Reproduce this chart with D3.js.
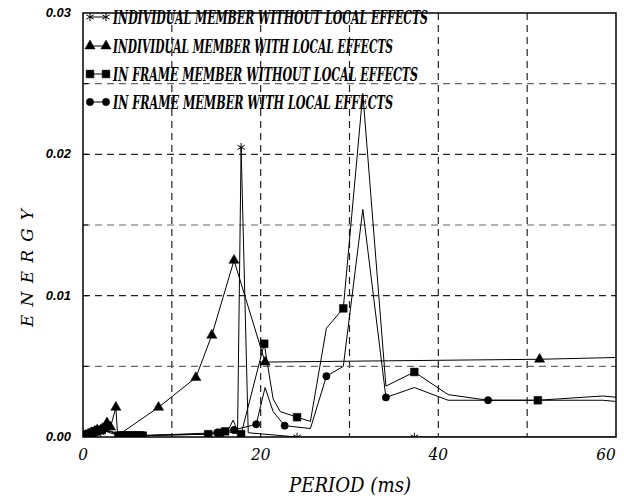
<!DOCTYPE html>
<html lang="en">
<head>
<meta charset="UTF-8">
<title>Energy vs Period</title>
<script src="https://cdnjs.cloudflare.com/ajax/libs/d3/7.8.5/d3.min.js"></script>
<style>
    body { margin: 0; background: #fff; }
    svg { display: block; }
</style>
</head>
<body>
<div id="wrapper"></div>
<script>
// --- data ---
const seriesNames = [
    "INDIVIDUAL MEMBER WITHOUT LOCAL EFFECTS",
    "INDIVIDUAL MEMBER WITH LOCAL EFFECTS",
    "IN FRAME MEMBER WITHOUT LOCAL EFFECTS",
    "IN FRAME MEMBER WITH LOCAL EFFECTS"
];

// individual member without local effects (asterisk)
const indivNoLocalT = [0.2, 0.6, 1.0, 1.5, 2.0, 2.6, 3.2, 4.5, 6.0, 14.0, 16.2, 16.9, 17.4, 17.8, 18.6, 24.1, 37.3, 65];
const indivNoLocalE = [0.0001, 0.0002, 0.0002, 0.0003, 0.0003, 0.0004, 0.0004, 0.0001, 0.0001, 0.0002, 0.0003, 0.0012, 0.0004, 0.0205, 0.0003, 0.0000, 0.0000, 0.0000];
const indivNoLocalMark = [1, 1, 1, 1, 1, 0, 0, 0, 0, 0, 0, 0, 0, 1, 0, 1, 1, 0];

// individual member with local effects (triangle)
const indivLocalT = [0.3, 0.7, 1.0, 1.3, 1.6, 2.0, 2.2, 2.5, 2.7, 3.1, 3.7, 3.9, 8.5, 12.7, 14.5, 17.0, 20.5, 51.4, 65];
const indivLocalE = [0.0001, 0.0002, 0.0003, 0.0004, 0.0005, 0.0005, 0.0006, 0.0007, 0.0010, 0.0007, 0.0021, 0.0001, 0.0021, 0.0042, 0.0072, 0.0125, 0.0053, 0.0055, 0.0057];
const indivLocalMark = [1, 1, 1, 1, 1, 1, 1, 1, 1, 1, 1, 0, 1, 1, 1, 1, 1, 1, 0];

// in frame member without local effects (square)
const frameNoLocalT = [0.1, 0.3, 0.5, 0.7, 0.9, 1.1, 1.3, 1.5, 1.8, 2.1, 4.0, 4.3, 4.6, 4.9, 5.2, 5.5, 5.8, 6.1, 6.4, 6.7, 14.1, 15.4, 16.0, 17.8, 20.4, 21.4, 22.2, 24.1, 25.6, 27.4, 29.3, 31.5, 34.1, 37.3, 41.1, 45.6, 51.2, 58.5, 62];
const frameNoLocalE = [0.0001, 0.0001, 0.0002, 0.0002, 0.0003, 0.0003, 0.0004, 0.0004, 0.0005, 0.0005, 0.0001, 0.0001, 0.0001, 0.0001, 0.0001, 0.0001, 0.0001, 0.0001, 0.0001, 0.0001, 0.0002, 0.0003, 0.0004, 0.0002, 0.0066, 0.0027, 0.0018, 0.0014, 0.0011, 0.0077, 0.0091, 0.0243, 0.0036, 0.0046, 0.0030, 0.0026, 0.0026, 0.0029, 0.0027];
const frameNoLocalMark = [1, 1, 1, 1, 1, 1, 1, 1, 1, 1, 1, 1, 1, 1, 1, 1, 1, 1, 1, 1, 1, 1, 1, 1, 1, 0, 0, 1, 0, 0, 1, 0, 0, 1, 0, 0, 1, 0, 0];

// in frame member with local effects (circle)
const frameLocalT = [0.2, 0.4, 0.6, 0.8, 1.0, 1.2, 1.4, 1.7, 2.0, 2.3, 4.1, 4.4, 4.7, 5.0, 5.3, 5.6, 5.9, 6.2, 6.5, 6.8, 15.1, 17.0, 19.5, 20.5, 21.4, 22.7, 25.6, 27.4, 29.3, 31.5, 34.1, 37.3, 41.1, 45.6, 51.2, 58.5, 62];
const frameLocalE = [0.0001, 0.0001, 0.0002, 0.0002, 0.0003, 0.0003, 0.0004, 0.0004, 0.0005, 0.0006, 0.0001, 0.0001, 0.0001, 0.0001, 0.0001, 0.0001, 0.0001, 0.0001, 0.0001, 0.0001, 0.0003, 0.0005, 0.0009, 0.0035, 0.0018, 0.0008, 0.0006, 0.0043, 0.0050, 0.0161, 0.0028, 0.0035, 0.0026, 0.0026, 0.0026, 0.0026, 0.0024];
const frameLocalMark = [1, 1, 1, 1, 1, 1, 1, 1, 1, 1, 1, 1, 1, 1, 1, 1, 1, 1, 1, 1, 1, 1, 1, 0, 0, 1, 0, 1, 0, 0, 1, 0, 0, 1, 0, 0, 0];

const xTicks = [0, 20, 40, 60];
const yTicks = [0.00, 0.01, 0.02, 0.03];
const xGrid = [10, 20, 30, 40, 50];
const yGrid = [0.005, 0.01, 0.015, 0.02, 0.025];

// --- layout ---
const width = 624, height = 499;
const plot = { left: 83, right: 616, top: 13, bottom: 437 };

const svg = d3.select("#wrapper").append("svg")
    .attr("width", width)
    .attr("height", height);

const x = d3.scaleLinear().domain([0, 60]).range([plot.left, plot.right]);
const y = d3.scaleLinear().domain([0, 0.03]).range([plot.bottom, plot.top]);

svg.append("clipPath").attr("id", "clip")
    .append("rect")
    .attr("x", plot.left).attr("y", plot.top)
    .attr("width", plot.right - plot.left)
    .attr("height", plot.bottom - plot.top);

// grid
svg.append("g").selectAll("line")
    .data(xGrid).join("line")
    .attr("x1", d => x(d)).attr("x2", d => x(d))
    .attr("y1", plot.top).attr("y2", plot.bottom)
    .attr("stroke", "#222").attr("stroke-width", 1.2)
    .attr("stroke-dasharray", "7,5");

svg.append("g").selectAll("line")
    .data(yGrid).join("line")
    .attr("x1", plot.left).attr("x2", plot.right)
    .attr("y1", d => y(d)).attr("y2", d => y(d))
    .attr("stroke", d => (Math.round(d * 1000) % 10 === 0) ? "#222" : "#666")
    .attr("stroke-width", 1.2)
    .attr("stroke-dasharray", "7,5");

// small inward ticks on the left axis
svg.append("g").selectAll("line")
    .data(yGrid).join("line")
    .attr("x1", plot.left).attr("x2", plot.left + 5)
    .attr("y1", d => y(d)).attr("y2", d => y(d))
    .attr("stroke", "#000");

// series
const series = [
    { t: indivNoLocalT, e: indivNoLocalE, m: indivNoLocalMark, sym: d3.symbolAsterisk, size: 50, fill: "none" },
    { t: indivLocalT, e: indivLocalE, m: indivLocalMark, sym: d3.symbolTriangle, size: 45, fill: "#000" },
    { t: frameNoLocalT, e: frameNoLocalE, m: frameNoLocalMark, sym: d3.symbolSquare, size: 60, fill: "#000" },
    { t: frameLocalT, e: frameLocalE, m: frameLocalMark, sym: d3.symbolCircle, size: 42, fill: "#000" }
];

const line = d3.line().x(d => x(d[0])).y(d => y(d[1]));
const lines = svg.append("g").attr("clip-path", "url(#clip)");

series.forEach(s => {
    const pts = s.t.map((t, i) => [t, s.e[i], s.m[i]]);
    lines.append("path")
        .attr("d", line(pts))
        .attr("fill", "none")
        .attr("stroke", "#000")
        .attr("stroke-width", 1);
    lines.selectAll(null)
        .data(pts.filter(d => d[2])).join("path")
        .attr("transform", d => `translate(${x(d[0])},${y(d[1])})`)
        .attr("d", d3.symbol().type(s.sym).size(s.size))
        .attr("fill", s.fill)
        .attr("stroke", "#000")
        .attr("stroke-width", s.fill === "none" ? 1 : 0.5);
});

// frame
svg.append("rect")
    .attr("x", plot.left).attr("y", plot.top)
    .attr("width", plot.right - plot.left)
    .attr("height", plot.bottom - plot.top)
    .attr("fill", "none")
    .attr("stroke", "#000")
    .attr("stroke-width", 1.5);

// tick labels
svg.append("g").selectAll("text")
    .data(yTicks).join("text")
    .attr("x", 71)
    .attr("y", d => y(d) + 4)
    .attr("text-anchor", "end")
    .style("font", "italic bold 13px 'Liberation Sans', sans-serif")
    .text(d => d.toFixed(2));

svg.append("g").selectAll("text")
    .data(xTicks).join("text")
    .attr("x", d => Math.min(x(d), 606))
    .attr("y", 460)
    .attr("text-anchor", "middle")
    .style("font", "italic 17px 'DejaVu Serif', serif")
    .style("font-stretch", "condensed")
    .text(d => d);

// axis titles
svg.append("text")
    .attr("x", 350).attr("y", 492)
    .attr("text-anchor", "middle")
    .attr("textLength", 122)
    .attr("lengthAdjust", "spacingAndGlyphs")
    .style("font", "italic 21px 'DejaVu Serif', serif")
    .text("PERIOD (ms)");

svg.append("text")
    .attr("transform", "translate(33,268) rotate(-90)")
    .attr("text-anchor", "middle")
    .attr("textLength", 118)
    .attr("lengthAdjust", "spacing")
    .style("font", "italic 17px 'DejaVu Serif', serif")
    .text("ENERGY");

// legend
const legendY = [17, 46, 74, 102];
const legendW = [315, 280, 305, 280];
const legend = svg.append("g");
series.forEach((s, i) => {
    const ly = legendY[i];
    legend.append("line")
        .attr("x1", 90).attr("x2", 106)
        .attr("y1", ly).attr("y2", ly)
        .attr("stroke", "#000");
    [90, 106].forEach(lx => {
        legend.append("path")
            .attr("transform", `translate(${lx},${ly})`)
            .attr("d", d3.symbol().type(s.sym).size(s.size))
            .attr("fill", s.fill)
            .attr("stroke", "#000")
            .attr("stroke-width", s.fill === "none" ? 1 : 0.5);
    });
    legend.append("text")
        .attr("x", 113).attr("y", ly + 7)
        .attr("textLength", legendW[i])
        .attr("lengthAdjust", "spacingAndGlyphs")
        .style("font", "italic bold 19px 'DejaVu Serif', serif")
        .style("font-stretch", "condensed")
        .text(seriesNames[i]);
});
</script>
</body>
</html>
